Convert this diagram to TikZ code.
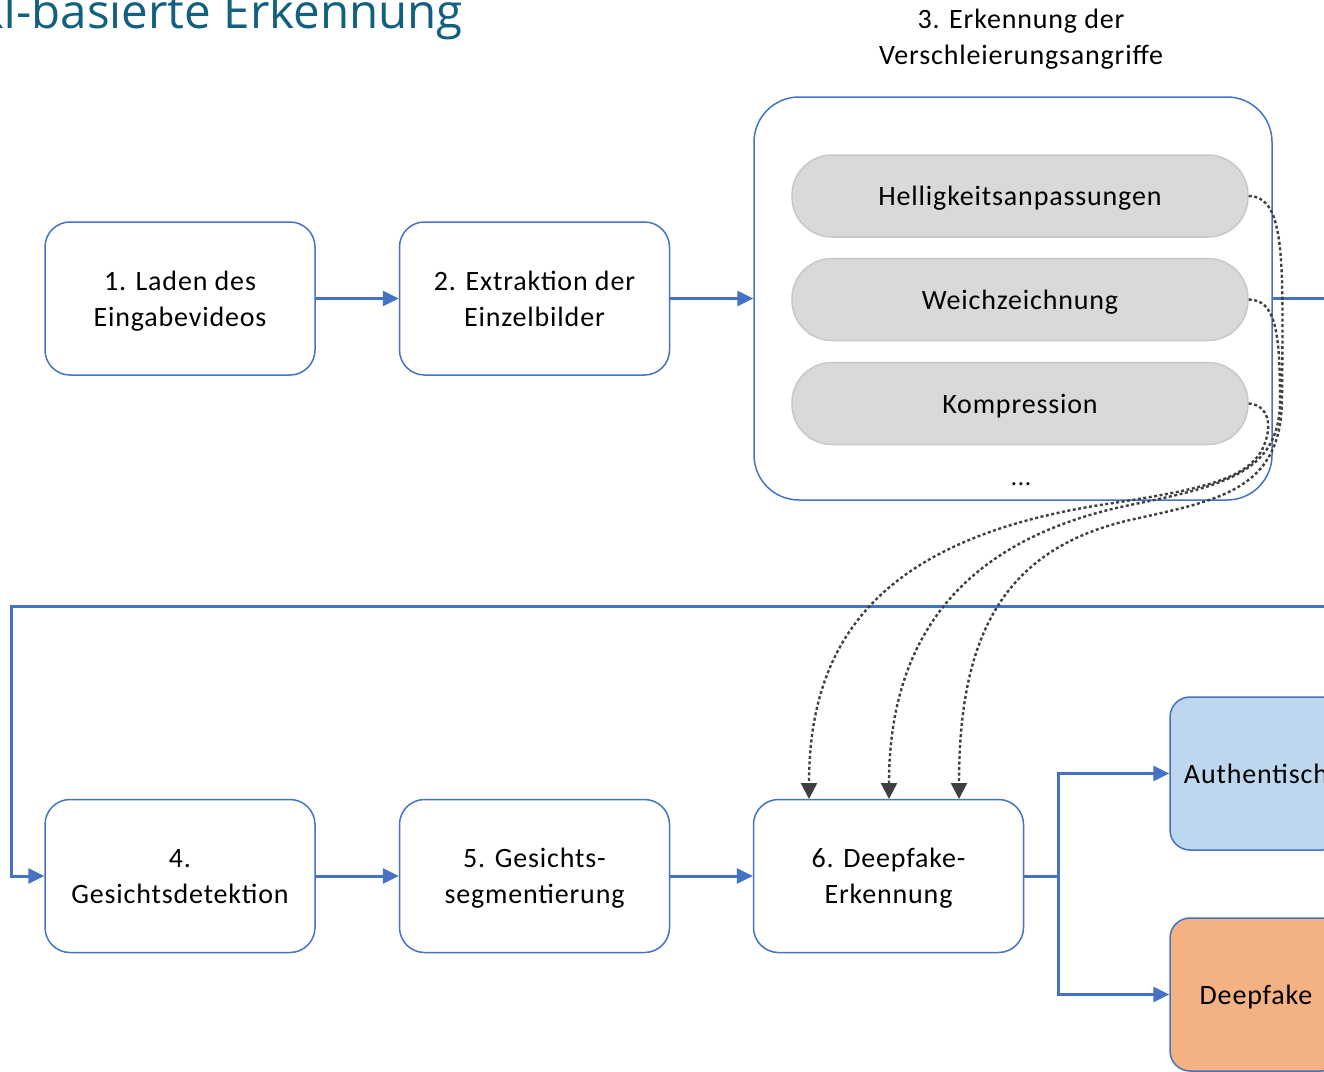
\documentclass[tikz,border=0pt]{standalone}
\usepackage{fontspec}
\setmainfont{Carlito}[LetterSpace=3]
\newfontfamily\titlefont{Open Sans}
\usepackage{tikz}
\usetikzlibrary{arrows.meta}

\definecolor{boxblue}{HTML}{4472C4}
\definecolor{pillgray}{HTML}{D9D9D9}
\definecolor{pillline}{HTML}{C8C8C8}
\definecolor{authblue}{HTML}{BDD7EE}
\definecolor{fakeorange}{HTML}{F4B183}
\definecolor{titleteal}{HTML}{12607F}
\definecolor{dotgray}{HTML}{404040}

\tikzset{
  stepbox/.style={draw=boxblue, line width=1.5pt, fill=white, rounded corners=25pt,
    minimum width=270pt, minimum height=153pt, align=center, text depth=0pt,
    font=\fontsize{28}{36}\selectfont},
  pill/.style={draw=pillline, line width=1.5pt, fill=pillgray, rounded corners=40pt,
    minimum width=456pt, minimum height=82pt, text depth=0pt,
    font=\fontsize{28}{36}\selectfont},
  flow/.style={-{Triangle[length=16pt,width=15pt]}, boxblue, line width=3pt},
  attack/.style={-{Triangle[length=16pt,width=16pt]}, dotgray, line width=2.4pt,
    dash pattern=on 3pt off 2.5pt},
}

\begin{document}
\begin{tikzpicture}[x=1pt, y=-1pt]
\useasboundingbox (0,0) rectangle (1324,1071);
\clip (0,0) rectangle (1324,1071);

% title (cut off by the page)
\node[anchor=base east, inner sep=0pt, text=titleteal, font=\titlefont\fontsize{47.5}{50}\selectfont]
  (title) at (463,28) {KI-basierte Erkennung};

% upper row
\node[stepbox] (load) at (180,298.5) {1. Laden des\\Eingabevideos};
\node[stepbox] (frames) at (534.5,298.5) {2. Extraktion der\\Einzelbilder};
\node[draw=boxblue, line width=1.5pt, rounded corners=45pt, minimum width=518pt,
  minimum height=403pt] (attacks) at (1013,298.5) {};
\node[align=center, font=\fontsize{28}{36}\selectfont] (attackstitle) at (1021,39)
  {3. Erkennung der\\Verschleierungsangriffe};
\node[pill] (bright) at (1020,196) {Helligkeitsanpassungen};
\node[pill] (blur) at (1020,299.5) {Weichzeichnung};
\node[pill] (compr) at (1020,403.5) {Kompression};
\node[font=\fontsize{25}{36}\selectfont] (more) at (1021,484) {...};

% lower row
\node[stepbox] (face) at (180,876) {4.\\Gesichtsdetektion};
\node[stepbox] (segm) at (534.5,876) {5. Gesichts-\\segmentierung};
\node[stepbox] (detect) at (888.5,876) {6. Deepfake-\\Erkennung};
\node[stepbox, fill=authblue, rounded corners=20pt, minimum width=172pt] (auth) at (1256,773.5) {Authentisch};
\node[stepbox, fill=fakeorange, rounded corners=20pt, minimum width=172pt] (fake) at (1256,994.5) {Deepfake};

\coordinate (outR) at (1340,298.5);
\coordinate (loopR) at (1340,606);
\coordinate (loopL) at (11,606);

% main flow
\draw[flow] (load.east) -- (frames.west);
\draw[flow] (frames.east) -- (attacks.west);
\draw[boxblue, line width=3pt] (attacks.east) -- (outR);
\draw[flow] (loopR) -- (loopL) |- (face.west);
\draw[flow] (face.east) -- (segm.west);
\draw[flow] (segm.east) -- (detect.west);
\draw[flow] (detect.east) -- ++(34,0) |- (auth.west);
\draw[flow] (detect.east) -- ++(34,0) |- (fake.west);

% attacks into detection
\draw[attack] (bright.east) .. controls (1286,197) and (1283,260) .. (1282,400)
  .. controls (1281,490) and (1220,500) .. (1130,520)
  .. controls (1000,550) and (959,640) .. (959,799);
\draw[attack] (blur.east) .. controls (1275,300) and (1280,330) .. (1280,400)
  .. controls (1280,470) and (1230,485) .. (1130,505)
  .. controls (960,540) and (889,640) .. (889,799);
\draw[attack] (compr.east) .. controls (1268,405) and (1274,425) .. (1262,450)
  .. controls (1245,480) and (1200,490) .. (1100,505)
  .. controls (880,540) and (809,640) .. (809,799);
\end{tikzpicture}
\end{document}
